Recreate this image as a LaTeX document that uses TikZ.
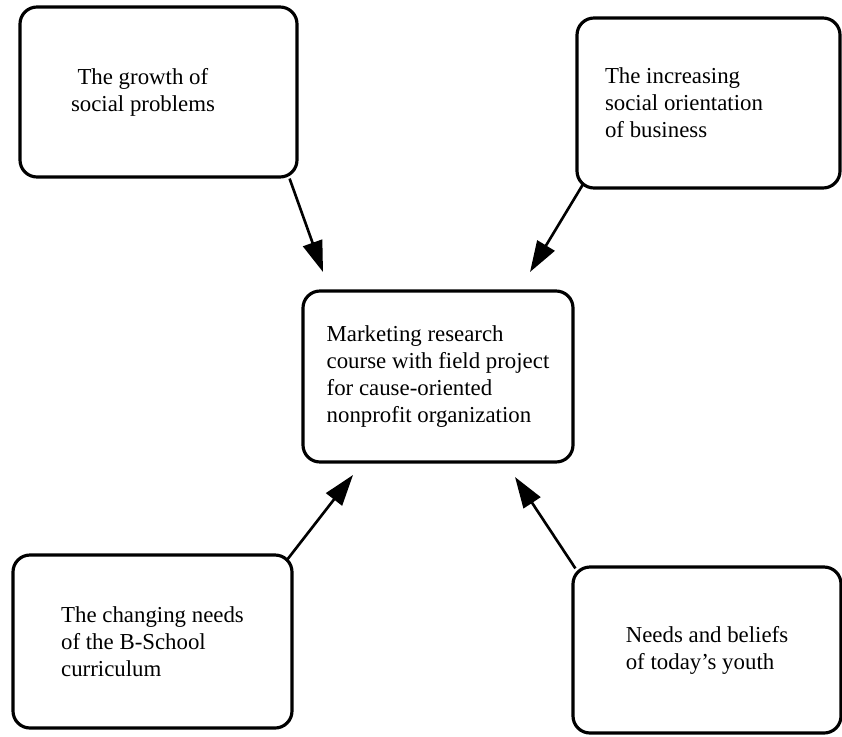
\documentclass[tikz,border=0pt]{standalone}
\usepackage{fontspec}
\setmainfont{Liberation Serif}
\usepackage{tikz}
\usetikzlibrary{arrows.meta}
\tikzset{
  factor/.style={rectangle, draw=black, fill=white,
    align=flush left, inner sep=0pt, rounded corners=0.34cm,
    font=\fontsize{13}{15.4}\selectfont, line width=1.8pt},
  arrow/.style={-{Triangle[length=0.62cm, width=0.4cm]}, line width=1.5pt, color=black}
}

\begin{document}
\begin{tikzpicture}
  \path[use as bounding box, fill=white] (0,0) rectangle (16.84,-14.72);

  % Central course box
  \node[factor, minimum width=5.40cm, minimum height=3.42cm] (course) at (8.76,-7.53)
    {Marketing research\\course with field project\\for cause-oriented\\nonprofit organization};

  % Influencing factors
  \node[factor, minimum width=5.54cm, minimum height=3.40cm, text width=3.50cm, inner xsep=1.02cm] (growth) at (3.17,-1.84)
    {\hspace*{0.13cm}The growth of\\social problems};
  \node[factor, minimum width=5.26cm, minimum height=3.40cm, text width=4.14cm, inner xsep=0.56cm] (business) at (14.17,-2.06)
    {The increasing\\social orientation\\of business};
  \node[factor, minimum width=5.58cm, minimum height=3.46cm] (curriculum) at (3.05,-12.83)
    {The changing needs\\of the B-School\\curriculum};
  \node[factor, minimum width=5.36cm, minimum height=3.32cm] (youth) at (14.14,-13.00)
    {Needs and beliefs\\of today's youth};

  % Arrow tips stop short of the course box
  \coordinate (tipA) at (6.46,-5.44);
  \coordinate (tipB) at (10.60,-5.44);
  \coordinate (tipC) at (7.06,-9.50);
  \coordinate (tipD) at (10.30,-9.54);

  \draw[arrow] ([xshift=-0.18cm]growth.south east) -- (tipA);
  \draw[arrow] ([xshift=0.16cm, yshift=0.12cm]business.south west) -- (tipB);
  \draw[arrow] ([xshift=-0.14cm, yshift=-0.14cm]curriculum.north east) -- (tipC);
  \draw[arrow] ([xshift=0.08cm, yshift=-0.06cm]youth.north west) -- (tipD);
\end{tikzpicture}
\end{document}
